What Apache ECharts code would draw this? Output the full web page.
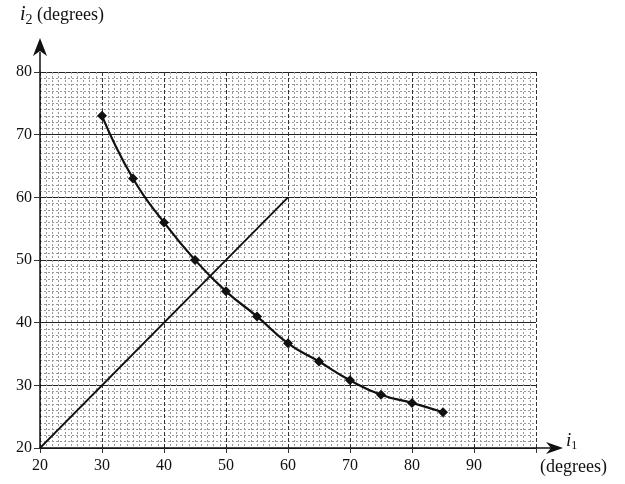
<!DOCTYPE html>
<html>
<head>
<meta charset="utf-8">
<script src="https://cdn.jsdelivr.net/npm/echarts@6/dist/echarts.min.js"></script>
<style>
  html, body { margin: 0; padding: 0; background: #fff; }
  #Map { width: 625px; height: 484px; }
</style>
</head>
<body>
<div id="Map"></div>
<script>
// 读出来的数据点 (i1, i2)
var i1Values = [30, 35, 40, 45, 50, 55, 60, 65, 70, 75, 80, 85];
var i2Values = [73, 63, 56, 50, 45, 41, 36.7, 33.8, 30.8, 28.5, 27.2, 25.7];
// 对角线 i2 = i1
var diagX = [20, 60];
var diagY = [20, 60];
var xTicks = [20, 30, 40, 50, 60, 70, 80, 90];
var yTicks = [20, 30, 40, 50, 60, 70, 80];

var serif = 'Liberation Serif';
var chart = echarts.init(document.getElementById('Map'));

var curveData = i1Values.map(function (x, k) { return [x, i2Values[k]]; });
var diagData = diagX.map(function (x, k) { return [x, diagY[k]]; });

var option = {
    animation: false,
    backgroundColor: '#fff',
    grid: { left: 40, right: 89, top: 72, bottom: 36 },
    xAxis: {
        type: 'value',
        min: 20, max: 100, interval: 10,
        axisLine: { lineStyle: { color: '#111', width: 1.5 } },
        axisTick: { show: true, length: 5, lineStyle: { color: '#333' } },
        axisLabel: {
            color: '#111', fontFamily: serif, fontSize: 16, margin: 10,
            formatter: function (v) { return xTicks.indexOf(v) >= 0 ? String(v) : ''; }
        },
        splitLine: { show: true, lineStyle: { color: '#333', width: 1, type: 'dashed' } },
        minorTick: { show: false, splitNumber: 10 },
        minorSplitLine: { show: true, lineStyle: { color: '#999', width: 1, type: [2, 2] } }
    },
    yAxis: {
        type: 'value',
        min: 20, max: 80, interval: 10,
        axisLine: { show: true, lineStyle: { color: '#111', width: 1.5 } },
        axisTick: { show: true, length: 6, lineStyle: { color: '#333' } },
        axisLabel: {
            color: '#111', fontFamily: serif, fontSize: 16, margin: 8,
            formatter: function (v) { return yTicks.indexOf(v) >= 0 ? String(v) : ''; }
        },
        splitLine: { show: true, lineStyle: { color: '#222', width: 1.2 } },
        minorTick: { show: false, splitNumber: 10 },
        minorSplitLine: { show: true, lineStyle: { color: '#999', width: 1, type: [2, 2] } }
    },
    series: [
        {
            type: 'line',
            data: diagData,
            symbol: 'none',
            lineStyle: { color: '#111', width: 1.8 },
            z: 3
        },
        {
            type: 'line',
            data: curveData,
            smooth: true,
            symbol: 'diamond',
            symbolSize: 10,
            itemStyle: { color: '#111' },
            lineStyle: { color: '#111', width: 2.2 },
            z: 4
        }
    ]
};
chart.setOption(option);

// 坐标轴箭头和标题，根据坐标换算位置
var o = chart.convertToPixel({ gridIndex: 0 }, [20, 20]);
var yTop = chart.convertToPixel({ gridIndex: 0 }, [20, 80]);
var xEnd = chart.convertToPixel({ gridIndex: 0 }, [100, 20]);

chart.setOption({
    graphic: [
        // y 轴延长线 + 箭头
        { type: 'line', shape: { x1: o[0], y1: yTop[1], x2: o[0], y2: yTop[1] - 20 }, style: { stroke: '#111', lineWidth: 1.5 } },
        { type: 'polygon', shape: { points: [[o[0], yTop[1] - 34], [o[0] - 7, yTop[1] - 16], [o[0], yTop[1] - 21], [o[0] + 7, yTop[1] - 16]] }, style: { fill: '#111' } },
        // x 轴延长线 + 箭头
        { type: 'line', shape: { x1: xEnd[0], y1: o[1], x2: xEnd[0] + 18, y2: o[1] }, style: { stroke: '#111', lineWidth: 1.5 } },
        { type: 'polygon', shape: { points: [[xEnd[0] + 27, o[1]], [xEnd[0] + 10, o[1] - 6], [xEnd[0] + 15, o[1]], [xEnd[0] + 10, o[1] + 6]] }, style: { fill: '#111' } },
        // y 轴标题
        {
            type: 'text', left: 20, top: 5,
            style: {
                text: '{i|i}{s|2}{t| (degrees)}',
                rich: {
                    i: { fontFamily: serif, fontStyle: 'italic', fontSize: 20, fill: '#111' },
                    s: { fontFamily: serif, fontSize: 14, fill: '#111', padding: [11, 0, 0, 0] },
                    t: { fontFamily: serif, fontSize: 18, fill: '#111' }
                }
            }
        },
        // x 轴标题
        {
            type: 'text', left: xEnd[0] + 30, top: o[1] - 17,
            style: {
                text: '{i|i}{s|1}',
                rich: {
                    i: { fontFamily: serif, fontStyle: 'italic', fontSize: 19, fill: '#111' },
                    s: { fontFamily: serif, fontSize: 12, fill: '#111', padding: [11, 0, 0, 0] }
                }
            }
        },
        {
            type: 'text', left: 540, top: o[1] + 10,
            style: { text: '(degrees)', fontFamily: serif, fontSize: 18, fill: '#111' }
        }
    ]
});
</script>
</body>
</html>
